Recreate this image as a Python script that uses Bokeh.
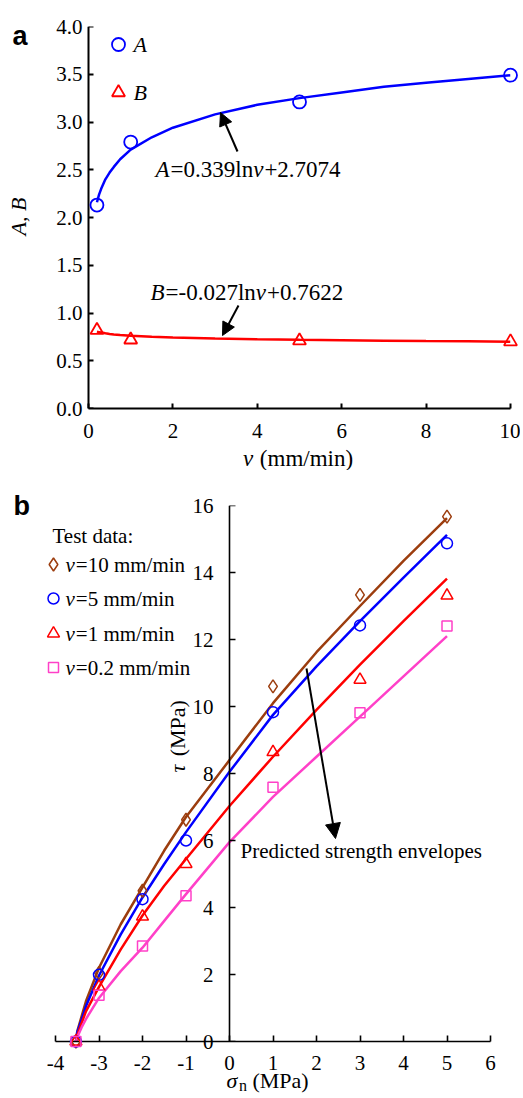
import math
from bokeh.plotting import figure
from bokeh.layouts import column
from bokeh.models import FixedTicker, Arrow, NormalHead
from bokeh.core.properties import value
from bokeh.embed import file_html
from bokeh.resources import INLINE

# ---------------- Panel a data ----------------
v_fit = [0.2, 0.25, 0.3, 0.4, 0.5, 0.6, 0.75, 1.0, 1.5, 2, 3, 4, 5, 6, 7, 8, 9, 10]
A_fit = [2.16, 2.24, 2.30, 2.40, 2.47, 2.53, 2.61, 2.71, 2.84, 2.94, 3.08, 3.18,
         3.25, 3.31, 3.37, 3.41, 3.45, 3.49]
B_fit = [0.805, 0.80, 0.795, 0.787, 0.781, 0.776, 0.770, 0.762, 0.751, 0.743, 0.733,
         0.725, 0.719, 0.714, 0.710, 0.706, 0.703, 0.700]
v_test = [0.2, 1, 5, 10]
A_test = [2.13, 2.79, 3.21, 3.49]
B_test = [0.82, 0.72, 0.71, 0.70]
a_xticks = [0, 2, 4, 6, 8, 10]
a_xlabels = ["0", "2", "4", "6", "8", "10"]
a_yticks = [0.0, 0.5, 1.0, 1.5, 2.0, 2.5, 3.0, 3.5, 4.0]
a_ylabels = ["0.0", "0.5", "1.0", "1.5", "2.0", "2.5", "3.0", "3.5", "4.0"]
eq_A = ["A", "=0.339ln", "v", "+2.7074"]
eq_B = ["B", "=-0.027ln", "v", "+0.7622"]

# ---------------- Panel b data ----------------
sigma_curve = [-3.53, -3.5, -3.4, -3.3, -3.0, -2.5, -2.0, -1.5, -1.0, 0, 1, 2, 3, 4, 5]
env_10 = [0, 0.30, 0.75, 1.20, 2.20, 3.50, 4.60, 5.70, 6.70, 8.40, 10.10, 11.62, 13.00, 14.35, 15.62]
env_5 = [0, 0.27, 0.65, 1.05, 1.97, 3.20, 4.30, 5.30, 6.25, 8.05, 9.75, 11.20, 12.55, 13.85, 15.12]
env_1 = [0, 0.19, 0.55, 0.90, 1.63, 2.75, 3.76, 4.65, 5.45, 7.03, 8.50, 9.90, 11.25, 12.55, 13.82]
env_02 = [0, 0.13, 0.42, 0.67, 1.30, 2.10, 2.80, 3.60, 4.40, 5.95, 7.30, 8.50, 9.70, 10.90, 12.10]
sigma_test = [-3.53, -3, -2, -1, 1, 3, 5]
tau_10 = [0, 2.05, 4.50, 6.62, 10.60, 13.33, 15.67]
tau_5 = [0, 1.99, 4.25, 6.00, 9.83, 12.42, 14.87]
tau_1 = [0, 1.63, 3.73, 5.30, 8.64, 10.80, 13.31]
tau_02 = [0, 1.38, 2.85, 4.35, 7.59, 9.81, 12.40]
series_names = ["=10 mm/min", "=5 mm/min", "=1 mm/min", "=0.2 mm/min"]
b_xticks = [-4, -3, -2, -1, 0, 1, 2, 3, 4, 5, 6]
b_xlabels = ["-4", "-3", "-2", "-1", "0", "1", "2", "3", "4", "5", "6"]
b_yticks = [0, 2, 4, 6, 8, 10, 12, 14, 16]
b_ylabels = ["0", "2", "4", "6", "8", "10", "12", "14", "16"]

# ---------------- styles ----------------
SERIF = "Liberation Serif"
SANS = "Liberation Sans"
BROWN = "#9C3D0E"
BLUE = "#0000FF"
RED = "#FF0000"
PINK = "#FF40C8"
TICK_PX = 21
EQ_PX = 23

REG = {' ': 0.25, '(': 0.333, ')': 0.333, '-': 0.333, '.': 0.25, '/': 0.278, '=': 0.564,
       '+': 0.564, 'M': 0.889, 'P': 0.556, 'a': 0.444, 'e': 0.444, 'i': 0.278, 'l': 0.278,
       'm': 0.778, 'n': 0.5, ':': 0.278}
ITA = {'A': 0.611, 'B': 0.611, 'v': 0.444, 'σ': 0.52, 'τ': 0.44, ' ': 0.25}


def text_w(s, size, italic=False):
    tab = ITA if italic else REG
    return sum(tab.get(c, 0.5) for c in s) * size


def lab(p, x, y, text, size, style="normal", align="left", baseline="middle",
        angle=0.0, font=SERIF, color="black"):
    xs = x if isinstance(x, list) else [x]
    ys = y if isinstance(y, list) else [y]
    ts = text if isinstance(text, list) else [text]
    p.text(x=xs, y=ys, text=ts, text_font=value(font),
           text_font_size=value(f"{size}px"), text_font_style=value(style),
           text_align=value(align), text_baseline=value(baseline), angle=angle,
           text_color=color, level="overlay")


def rich(p, x0_px, y_px, parts, size, tox, toy, sub_size=None):
    """parts: list of (text, italic, is_sub); positions in page pixels"""
    x = x0_px
    for txt, it, sub in parts:
        s = sub_size if sub else size
        dy = 5 if sub else 0
        while txt.startswith(" "):
            x += 0.25 * s
            txt = txt[1:]
        lab(p, tox(x), toy(y_px + dy), txt, s, "italic" if it else "normal")
        x += text_w(txt, s, it) + (1 if it else 0)


def style_axis(ax, lw, tick_in):
    ax.axis_line_width = lw
    ax.axis_line_color = "black"
    ax.major_tick_line_width = lw
    ax.major_tick_line_color = "black"
    ax.major_tick_in = tick_in
    ax.major_tick_out = 0
    ax.minor_tick_line_color = None
    ax.major_label_text_font = SERIF
    ax.major_label_text_font_size = f"{TICK_PX}px"
    ax.major_label_text_color = "black"


W = 520
FRAME_L, FRAME_R = 55, 510          # shared frame edges (column aligns frames)

# ---------------- Panel a ----------------
AH = 470
A_ORIGIN_X = 88                     # page x of v = 0
a_sx = 42.2                         # px per unit v
a_sy = 95.5                         # px per unit A/B
AX_T, AX_B = 26, 62
a_x0 = -(A_ORIGIN_X - FRAME_L) / a_sx
a_x1 = (FRAME_R - A_ORIGIN_X) / a_sx
pa = figure(width=W, height=AH, x_range=(a_x0, a_x1), y_range=(0, 4),
            output_backend="svg", toolbar_location=None,
            min_border_left=FRAME_L, min_border_right=W - FRAME_R,
            min_border_top=AX_T, min_border_bottom=AX_B,
            outline_line_color=None, background_fill_color="white",
            border_fill_color="white")
pa.grid.visible = False


def ax_a(px):
    return (px - A_ORIGIN_X) / a_sx


def ay_a(py):
    return (AH - AX_B - py) / a_sy


style_axis(pa.xaxis[0], 2, 5)
style_axis(pa.yaxis[0], 2, 5)
pa.xaxis.ticker = FixedTicker(ticks=a_xticks)
pa.xaxis.major_label_overrides = dict(zip(a_xticks, a_xlabels))
pa.xaxis.major_label_standoff = 15
pa.xaxis.bounds = (0, 10)
pa.yaxis.ticker = FixedTicker(ticks=a_yticks)
pa.yaxis.major_label_overrides = {t: "" for t in a_yticks}
pa.yaxis.major_label_standoff = 0
pa.yaxis.fixed_location = 0
pa.yaxis.bounds = (0, 4)
lab(pa, [ax_a(82)] * len(a_yticks), list(a_yticks), a_ylabels, TICK_PX, align="right")

pa.line(v_fit, A_fit, line_color=BLUE, line_width=2.5)
pa.line(v_fit, B_fit, line_color=RED, line_width=2.5)
pa.scatter(v_test, A_test, marker="circle", size=13, fill_color=None,
           line_color=BLUE, line_width=1.8, level="overlay")
pa.scatter(v_test, B_test, marker="triangle", size=13, fill_color=None,
           line_color=RED, line_width=1.8, level="overlay")

# legend of panel a
pa.scatter([ax_a(118)], [ay_a(44)], marker="circle", size=13, fill_color=None,
           line_color=BLUE, line_width=1.8, level="overlay")
pa.scatter([ax_a(118)], [ay_a(92)], marker="triangle", size=13, fill_color=None,
           line_color=RED, line_width=1.8, level="overlay")
lab(pa, ax_a(133), ay_a(44), "A", 22, "italic")
lab(pa, ax_a(133), ay_a(92), "B", 22, "italic")

rich(pa, 155, 169, [(eq_A[0], True, False), (eq_A[1], False, False),
                    (eq_A[2], True, False), (eq_A[3], False, False)], EQ_PX, ax_a, ay_a)
rich(pa, 150, 292, [(eq_B[0], True, False), (eq_B[1], False, False),
                    (eq_B[2], True, False), (eq_B[3], False, False)], EQ_PX, ax_a, ay_a)

pa.add_layout(Arrow(end=NormalHead(size=13, fill_color="black", line_color="black"),
                    x_start=ax_a(237), y_start=ay_a(151), x_end=ax_a(220), y_end=ay_a(112),
                    line_width=2, line_color="black"))
pa.add_layout(Arrow(end=NormalHead(size=13, fill_color="black", line_color="black"),
                    x_start=ax_a(238), y_start=ay_a(305), x_end=ax_a(222), y_end=ay_a(335),
                    line_width=2, line_color="black"))

# axis titles of panel a
xl_parts = [("v", True, False), (" (mm/min)", False, False)]
xl_w = sum(text_w(t, EQ_PX, it) for t, it, _ in xl_parts)
rich(pa, 297 - xl_w / 2, 458, xl_parts, EQ_PX, ax_a, ay_a)
lab(pa, ax_a(18), ay_a(216), "A, B", 22, "italic", align="center",
    angle=math.pi / 2)
lab(pa, ax_a(12), ay_a(35), "a", 27, "bold", baseline="alphabetic", font=SANS)

# ---------------- Panel b ----------------
BH = 626
PAGE_TOP_B = AH
B_ORIGIN_X = 229                    # page x of sigma = 0
b_sx = 43.5
BX_T = 505 - PAGE_TOP_B
BX_B = PAGE_TOP_B + BH - 1041
b_x0 = (FRAME_L - B_ORIGIN_X) / b_sx
b_x1 = (FRAME_R - B_ORIGIN_X) / b_sx
pb = figure(width=W, height=BH, x_range=(b_x0, b_x1), y_range=(0, 16),
            output_backend="svg", toolbar_location=None,
            min_border_left=FRAME_L, min_border_right=W - FRAME_R,
            min_border_top=BX_T, min_border_bottom=BX_B,
            outline_line_color=None, background_fill_color="white",
            border_fill_color="white")
pb.grid.visible = False
b_sy = (BH - BX_T - BX_B) / 16.0


def bx(px):
    return (px - B_ORIGIN_X) / b_sx


def by(py):
    return (PAGE_TOP_B + BH - BX_B - py) / b_sy


style_axis(pb.xaxis[0], 1.6, 6)
style_axis(pb.yaxis[0], 1.6, 6)
pb.xaxis.ticker = FixedTicker(ticks=b_xticks)
pb.xaxis.major_label_overrides = dict(zip(b_xticks, b_xlabels))
pb.xaxis.major_label_standoff = 14
pb.xaxis.bounds = (-4, 6)
pb.yaxis.ticker = FixedTicker(ticks=b_yticks)
pb.yaxis.major_label_overrides = {t: "" for t in b_yticks}
pb.yaxis.major_label_standoff = 0
pb.yaxis.fixed_location = 0
pb.yaxis.bounds = (0, 16)
# y tick labels drawn beside the axis that sits at sigma = 0
lab(pb, [bx(213)] * len(b_yticks), [float(t) for t in b_yticks], b_ylabels,
    TICK_PX, align="right")

curves = [(env_10, BROWN), (env_5, BLUE), (env_1, RED), (env_02, PINK)]
for env, col in curves:
    pb.line(sigma_curve, env, line_color=col, line_width=2.5)

tests = [(tau_10, "diamond", BROWN, 13), (tau_5, "circle", BLUE, 11),
         (tau_1, "triangle", RED, 12), (tau_02, "square", PINK, 10)]
for tau, mk, col, sz in tests:
    pb.scatter(sigma_test, tau, marker=mk, size=sz, fill_color=None,
               line_color=col, line_width=1.5, level="overlay")

# legend of panel b
lab(pb, bx(52), by(535), "Test data:", 21)
leg_rows = [564, 598, 633, 667]
for (tau, mk, col, sz), name, ry in zip(tests, series_names, leg_rows):
    pb.scatter([bx(53)], [by(ry)], marker=mk, size=sz, fill_color=None,
               line_color=col, line_width=1.5, level="overlay")
    rich(pb, 65, ry, [("v", True, False), (name, False, False)], 21, bx, by)

lab(pb, bx(240), by(850), "Predicted strength envelopes", 21)
pb.add_layout(Arrow(end=NormalHead(size=15, fill_color="black", line_color="black"),
                    x_start=bx(306), y_start=by(668), x_end=bx(335), y_end=by(838),
                    line_width=2, line_color="black"))

# axis titles of panel b
sl_parts = [("σ", True, False), ("n", False, True), (" (MPa)", False, False)]
rich(pb, 226, 1080, sl_parts, 22, bx, by, sub_size=16)

y0 = 772
for txt, it in [("τ", True), ("(MPa)", False)]:
    lab(pb, bx(177), by(y0), txt, 22, "italic" if it else "normal", angle=math.pi / 2)
    y0 -= text_w(txt, 22, it) + (1 if it else 0) + 5.5

lab(pb, bx(13), by(505), "b", 27, "bold", baseline="alphabetic", font=SANS)

layout = column(pa, pb)
open("out.html", "w").write(file_html(layout, INLINE))
